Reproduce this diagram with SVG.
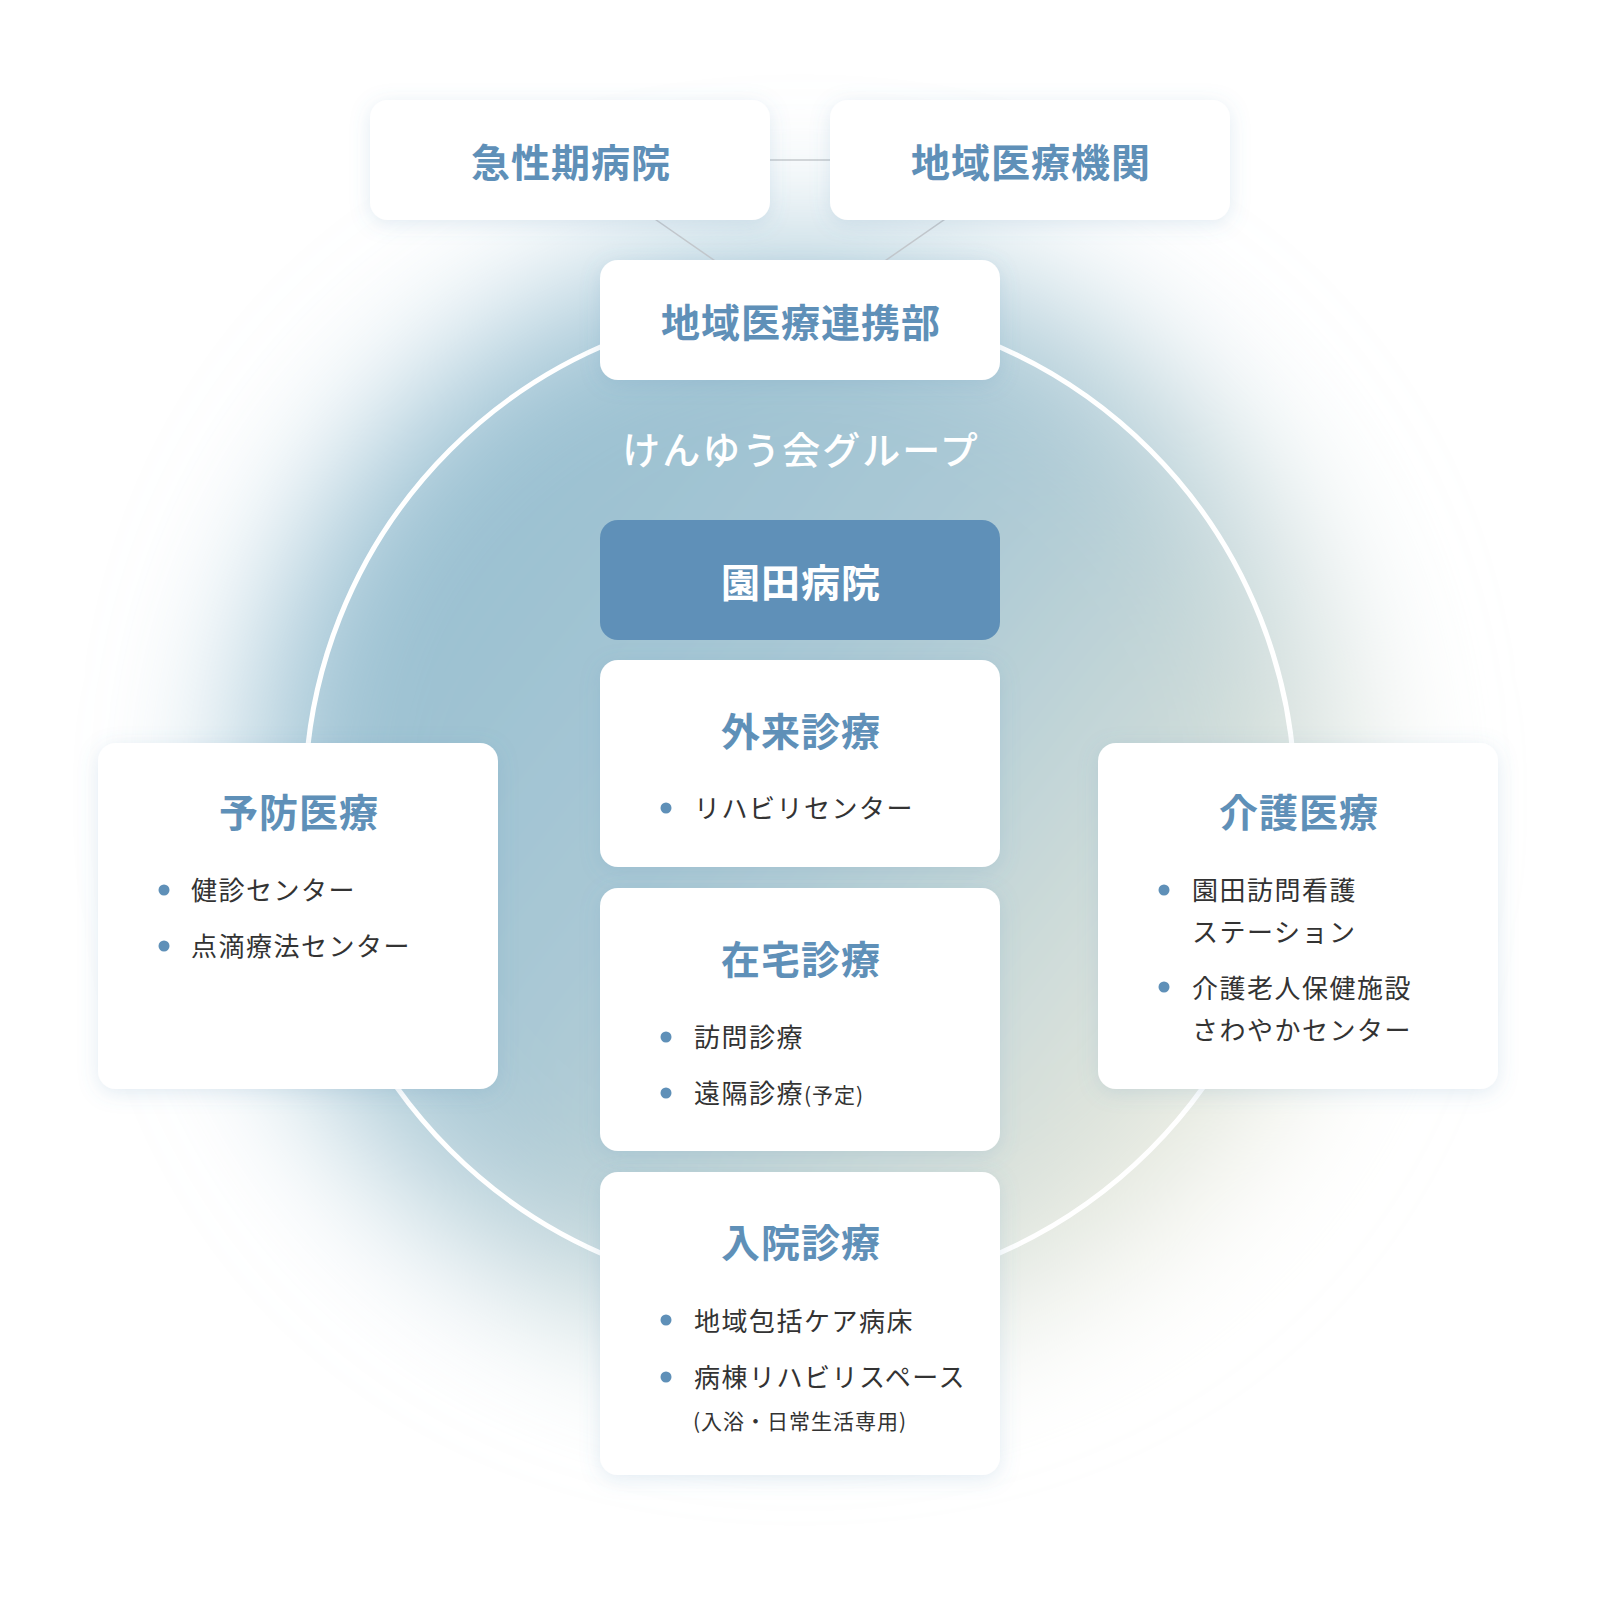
<svg xmlns="http://www.w3.org/2000/svg" width="1600" height="1600" viewBox="0 0 1600 1600">
<style>
.box{fill:#ffffff;filter:url(#sh)}
.ttl{font-family:"Noto Sans CJK JP","Noto Sans",sans-serif;font-weight:700;font-size:39px;letter-spacing:1px;fill:#5f90b8;text-anchor:middle}
.itm{font-family:"Noto Sans CJK JP","Noto Sans",sans-serif;font-weight:400;font-size:26px;letter-spacing:1.5px;fill:#333333}
.sm{font-size:21px;letter-spacing:1px}
.dot{fill:#5f90b8}
.con{stroke:#c4c8cc;stroke-width:1.5;fill:none}
</style>
<defs>
<linearGradient id="glowg" x1="0.15" y1="0.25" x2="0.85" y2="0.8">
<stop offset="0" stop-color="#98bfd1"/>
<stop offset="0.45" stop-color="#abc9d5"/>
<stop offset="1" stop-color="#e6e8dc"/>
</linearGradient>
<filter id="blur" x="-50%" y="-50%" width="200%" height="200%">
<feGaussianBlur stdDeviation="75"/>
</filter>
<filter id="sh" x="-20%" y="-30%" width="140%" height="160%">
<feDropShadow dx="0" dy="4" stdDeviation="10" flood-color="#5f90b8" flood-opacity="0.18"/>
</filter>
</defs>
<rect width="1600" height="1600" fill="#ffffff"/>
<circle cx="800" cy="800" r="550" fill="url(#glowg)" filter="url(#blur)"/>
<circle cx="800" cy="800" r="495" fill="none" stroke="#ffffff" stroke-width="5"/>

<g id="connectors">
<line class="con" x1="570" y1="160" x2="1030" y2="160"/>
<line class="con" x1="570" y1="160" x2="800" y2="320"/>
<line class="con" x1="1030" y1="160" x2="800" y2="320"/>
</g>

<g id="node-acute">
<rect class="box" x="370" y="100" width="400" height="120" rx="18"/>
<text class="ttl" x="571" y="177">急性期病院</text>
</g>
<g id="node-regional">
<rect class="box" x="830" y="100" width="400" height="120" rx="18"/>
<text class="ttl" x="1031" y="177">地域医療機関</text>
</g>
<g id="node-liaison">
<rect class="box" x="600" y="260" width="400" height="120" rx="18"/>
<text class="ttl" x="801" y="337">地域医療連携部</text>
</g>
<g id="group-label">
<text x="801" y="464" font-family="'Noto Sans CJK JP','Noto Sans',sans-serif" font-weight="500" font-size="38" letter-spacing="2" fill="#ffffff" text-anchor="middle">けんゆう会グループ</text>
</g>
<g id="node-sonoda">
<rect x="600" y="520" width="400" height="120" rx="18" fill="#5f90b8"/>
<text class="ttl" x="801" y="597" style="fill:#ffffff">園田病院</text>
</g>
<g id="node-outpatient">
<rect class="box" x="600" y="660" width="400" height="207" rx="18"/>
<text class="ttl" x="801" y="746">外来診療</text>
<circle class="dot" cx="666" cy="808" r="5.5"/>
<text class="itm" x="694" y="818">リハビリセンター</text>
</g>
<g id="node-home">
<rect class="box" x="600" y="888" width="400" height="263" rx="18"/>
<text class="ttl" x="801" y="974">在宅診療</text>
<circle class="dot" cx="666" cy="1037" r="5.5"/>
<text class="itm" x="694" y="1047">訪問診療</text>
<circle class="dot" cx="666" cy="1093" r="5.5"/>
<text class="itm" x="694" y="1103">遠隔診療<tspan class="sm">(予定)</tspan></text>
</g>
<g id="node-inpatient">
<rect class="box" x="600" y="1172" width="400" height="303" rx="18"/>
<text class="ttl" x="801" y="1257">入院診療</text>
<circle class="dot" cx="666" cy="1320" r="5.5"/>
<text class="itm" x="694" y="1331">地域包括ケア病床</text>
<circle class="dot" cx="666" cy="1377" r="5.5"/>
<text class="itm" x="694" y="1387">病棟リハビリスペース</text>
<text class="itm sm" x="693" y="1429">(入浴・日常生活専用)</text>
</g>
<g id="node-prevention">
<rect class="box" x="98" y="743" width="400" height="346" rx="18"/>
<text class="ttl" x="299" y="827">予防医療</text>
<circle class="dot" cx="164" cy="890" r="5.5"/>
<text class="itm" x="191" y="900">健診センター</text>
<circle class="dot" cx="164" cy="946" r="5.5"/>
<text class="itm" x="191" y="956">点滴療法センター</text>
</g>
<g id="node-care">
<rect class="box" x="1098" y="743" width="400" height="346" rx="18"/>
<text class="ttl" x="1299" y="827">介護医療</text>
<circle class="dot" cx="1164" cy="890" r="5.5"/>
<text class="itm" x="1192" y="900">園田訪問看護</text>
<text class="itm" x="1192" y="942">ステーション</text>
<circle class="dot" cx="1164" cy="987" r="5.5"/>
<text class="itm" x="1192" y="998">介護老人保健施設</text>
<text class="itm" x="1192" y="1040">さわやかセンター</text>
</g>
</svg>
